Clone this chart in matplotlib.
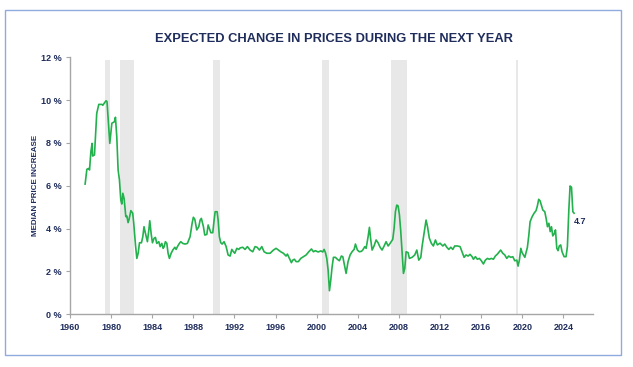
import matplotlib
matplotlib.use("Agg")
from matplotlib import pyplot as plt
from matplotlib.patches import Rectangle

# chart data (x in the chart's own year units)
years = [1977.47, 1977.64, 1977.8, 1977.9, 1978.03, 1978.15, 1978.2, 1978.38, 1978.6, 1978.8,
         1979.1, 1979.19, 1979.5, 1979.6, 1979.74, 1979.87, 1979.97, 1980.07, 1980.22, 1980.32,
         1980.42, 1980.55, 1980.68, 1980.81, 1980.94, 1981.04, 1981.14, 1981.26, 1981.43, 1981.53,
         1981.65, 1981.75, 1981.92, 1982.1, 1982.2, 1982.37, 1982.5, 1982.63, 1982.76, 1982.95,
         1983.08, 1983.2, 1983.34, 1983.53, 1983.67, 1983.76, 1983.89, 1984.02, 1984.18, 1984.31,
         1984.44, 1984.64, 1984.77, 1984.93, 1985.06, 1985.16, 1985.28, 1985.42, 1985.54, 1985.67,
         1985.84, 1986.0, 1986.2, 1986.32, 1986.45, 1986.64, 1986.78, 1986.97, 1987.2, 1987.42,
         1987.68, 1987.88, 1988.0, 1988.14, 1988.33, 1988.53, 1988.66, 1988.78, 1988.98, 1989.11,
         1989.31, 1989.44, 1989.56, 1989.7, 1989.89, 1990.02, 1990.12, 1990.31, 1990.41, 1990.53,
         1990.67, 1990.8, 1990.99, 1991.19, 1991.38, 1991.58, 1991.74, 1991.9, 1992.03, 1992.23,
         1992.42, 1992.55, 1992.8, 1993.03, 1993.26, 1993.52, 1993.78, 1994.0, 1994.2, 1994.43,
         1994.66, 1994.88, 1995.15, 1995.47, 1995.79, 1996.05, 1996.27, 1996.5, 1996.76, 1997.02,
         1997.15, 1997.35, 1997.54, 1997.67, 1997.83, 1998.0, 1998.22, 1998.45, 1998.71, 1998.97,
         1999.23, 1999.49, 1999.68, 1999.87, 2000.14, 2000.4, 2000.59, 2000.72, 2000.85, 2000.98,
         2001.11, 2001.24, 2001.37, 2001.5, 2001.63, 2001.82, 2002.01, 2002.21, 2002.4, 2002.54,
         2002.7, 2002.86, 2003.05, 2003.25, 2003.44, 2003.64, 2003.77, 2003.96, 2004.15, 2004.35,
         2004.48, 2004.68, 2004.81, 2005.0, 2005.13, 2005.26, 2005.39, 2005.58, 2005.78, 2005.97,
         2006.17, 2006.36, 2006.56, 2006.75, 2006.95, 2007.14, 2007.4, 2007.53, 2007.66, 2007.79,
         2007.92, 2008.05, 2008.18, 2008.31, 2008.44, 2008.57, 2008.7, 2008.89, 2009.02, 2009.28,
         2009.54, 2009.74, 2009.93, 2010.13, 2010.25, 2010.45, 2010.64, 2010.77, 2010.96, 2011.16,
         2011.35, 2011.55, 2011.74, 2012.0, 2012.27, 2012.46, 2012.66, 2012.85, 2013.05, 2013.24,
         2013.43, 2013.69, 2013.95, 2014.14, 2014.34, 2014.53, 2014.73, 2014.92, 2015.12, 2015.25,
         2015.44, 2015.63, 2015.83, 2016.02, 2016.22, 2016.41, 2016.61, 2016.8, 2016.99, 2017.19,
         2017.38, 2017.58, 2017.77, 2017.9, 2018.1, 2018.3, 2018.49, 2018.68, 2018.88, 2019.08,
         2019.27, 2019.47, 2019.59, 2019.72, 2019.86, 2019.98, 2020.11, 2020.25, 2020.37, 2020.5,
         2020.64, 2020.76, 2020.96, 2021.15, 2021.34, 2021.47, 2021.6, 2021.73, 2021.86, 2022.0,
         2022.19, 2022.32, 2022.45, 2022.59, 2022.72, 2022.84, 2022.97, 2023.1, 2023.23, 2023.36,
         2023.48, 2023.6, 2023.74, 2023.87, 2024.07, 2024.26, 2024.39, 2024.53, 2024.65, 2024.79,
         2024.92, 2025.04]
median_increase = [6.08, 6.77, 6.81, 6.74, 7.59, 7.98, 7.39, 7.44, 9.38, 9.80,
                   9.80, 9.76, 9.97, 9.93, 8.92, 7.98, 8.45, 8.92, 8.96, 8.99,
                   9.20, 8.29, 6.74, 6.27, 5.34, 5.15, 5.65, 5.41, 4.56, 4.59,
                   4.28, 4.44, 4.84, 4.72, 4.25, 3.24, 2.61, 2.85, 3.34, 3.34,
                   3.62, 4.09, 3.78, 3.39, 3.94, 4.37, 3.78, 3.34, 3.55, 3.59,
                   3.31, 3.39, 3.16, 3.31, 3.08, 3.16, 3.39, 3.31, 2.85, 2.61,
                   2.85, 3.00, 3.13, 3.03, 3.16, 3.31, 3.39, 3.31, 3.28, 3.31,
                   3.62, 4.25, 4.53, 4.44, 3.94, 4.09, 4.40, 4.48, 4.09, 3.70,
                   3.73, 4.17, 4.01, 3.81, 3.81, 4.40, 4.79, 4.79, 4.40, 3.62,
                   3.34, 3.28, 3.39, 3.16, 2.77, 2.72, 3.03, 2.92, 2.85, 3.08,
                   3.03, 3.10, 3.13, 3.03, 3.16, 3.00, 2.92, 3.16, 3.13, 3.00,
                   3.16, 2.92, 2.85, 2.85, 3.00, 3.08, 3.00, 2.92, 2.85, 2.72,
                   2.81, 2.61, 2.41, 2.53, 2.57, 2.46, 2.46, 2.61, 2.69, 2.77,
                   2.92, 3.05, 2.92, 2.97, 2.91, 2.96, 2.91, 3.03, 2.88, 2.61,
                   2.07, 1.10, 1.60, 2.22, 2.66, 2.66, 2.57, 2.50, 2.72, 2.69,
                   2.30, 1.91, 2.46, 2.77, 2.92, 3.03, 3.28, 3.00, 2.92, 2.94,
                   3.00, 3.16, 3.08, 3.62, 4.06, 3.47, 3.00, 3.19, 3.47, 3.34,
                   3.13, 3.00, 3.19, 3.39, 3.19, 3.31, 3.50, 4.01, 4.79, 5.10,
                   5.06, 4.64, 3.86, 2.92, 1.91, 2.15, 2.92, 2.88, 2.61, 2.66,
                   2.77, 3.00, 2.53, 2.66, 3.16, 3.78, 4.40, 4.12, 3.55, 3.31,
                   3.19, 3.47, 3.24, 3.32, 3.19, 3.28, 3.13, 3.03, 3.13, 3.03,
                   3.19, 3.19, 3.16, 2.92, 2.66, 2.77, 2.72, 2.80, 2.69, 2.57,
                   2.69, 2.57, 2.61, 2.50, 2.35, 2.53, 2.61, 2.57, 2.61, 2.57,
                   2.72, 2.81, 2.92, 3.00, 2.85, 2.77, 2.61, 2.72, 2.66, 2.69,
                   2.50, 2.53, 2.25, 2.53, 3.08, 2.88, 2.77, 2.66, 2.88, 3.13,
                   3.70, 4.32, 4.56, 4.72, 4.84, 5.06, 5.37, 5.30, 5.10, 4.87,
                   4.79, 4.48, 4.09, 4.25, 3.86, 4.09, 3.66, 3.75, 3.94, 3.08,
                   2.97, 3.19, 3.24, 2.92, 2.69, 2.69, 3.16, 4.87, 5.99, 5.93,
                   4.79, 4.72]

recession_start = [1979.42, 1980.9, 1989.92, 2000.52, 2007.24, 2019.40]
recession_end = [1979.90, 1982.2, 1990.57, 2001.2, 2008.82, 2019.62]

tick_pos = [1976, 1980, 1984, 1988, 1992, 1996, 2000, 2004, 2008, 2012, 2016, 2020, 2024]
tick_labels = ["1960", "1980", "1984", "1988", "1992", "1996", "2000", "2004", "2008",
               "2012", "2016", "2020", "2024"]
y_ticks = [0, 2, 4, 6, 8, 10, 12]

navy = "#1f2d5c"
green = "#22b14c"
plt.rcParams["font.family"] = ["Liberation Sans", "DejaVu Sans"]

fig = plt.figure(figsize=(6.33, 3.67), dpi=100)
fig.patches.append(Rectangle((5 / 633, 12 / 367), 616 / 633, 345 / 367, transform=fig.transFigure,
                             fill=False, edgecolor="#8faadc", linewidth=1.0))

ax = fig.add_axes([0.1106, 0.1436, 0.8257, 0.7003])

for s, e in zip(recession_start, recession_end):
    ax.axvspan(s, e, ymin=0, ymax=11.88 / 12, color="#e8e8e8", linewidth=0, zorder=0)

ax.plot(years, median_increase, color=green, linewidth=1.2, zorder=2)
ax.annotate(f"{median_increase[-1]:.1f}", (years[-1], median_increase[-1]),
            xytext=(-0.5, -6), textcoords="offset points", fontsize=6.5, fontweight="bold",
            color=navy, ha="left", va="center")

ax.set_xlim(1976, 2026.85)
ax.set_ylim(0, 12)
ax.set_xticks(tick_pos)
ax.set_xticklabels(tick_labels)
ax.set_yticks(y_ticks)
ax.set_yticklabels([f"{v} %" for v in y_ticks])
ax.tick_params(axis="both", length=3, width=0.8, color="#a6a6a6", labelsize=6.5,
               labelcolor=navy, pad=3)
for lab in ax.get_xticklabels() + ax.get_yticklabels():
    lab.set_fontweight("bold")

for side in ["top", "right"]:
    ax.spines[side].set_visible(False)
for side in ["left", "bottom"]:
    ax.spines[side].set_color("#a6a6a6")
    ax.spines[side].set_linewidth(1.0)

ax.set_ylabel("MEDIAN PRICE INCREASE", fontsize=5.8, fontweight="bold", color=navy,
              labelpad=1.5)
fig.text(334 / 633, 1 - 39 / 367, "EXPECTED CHANGE IN PRICES DURING THE NEXT YEAR",
         ha="center", va="center", fontsize=9.3, fontweight="bold", color=navy)

fig.savefig("out.png", dpi=100)
